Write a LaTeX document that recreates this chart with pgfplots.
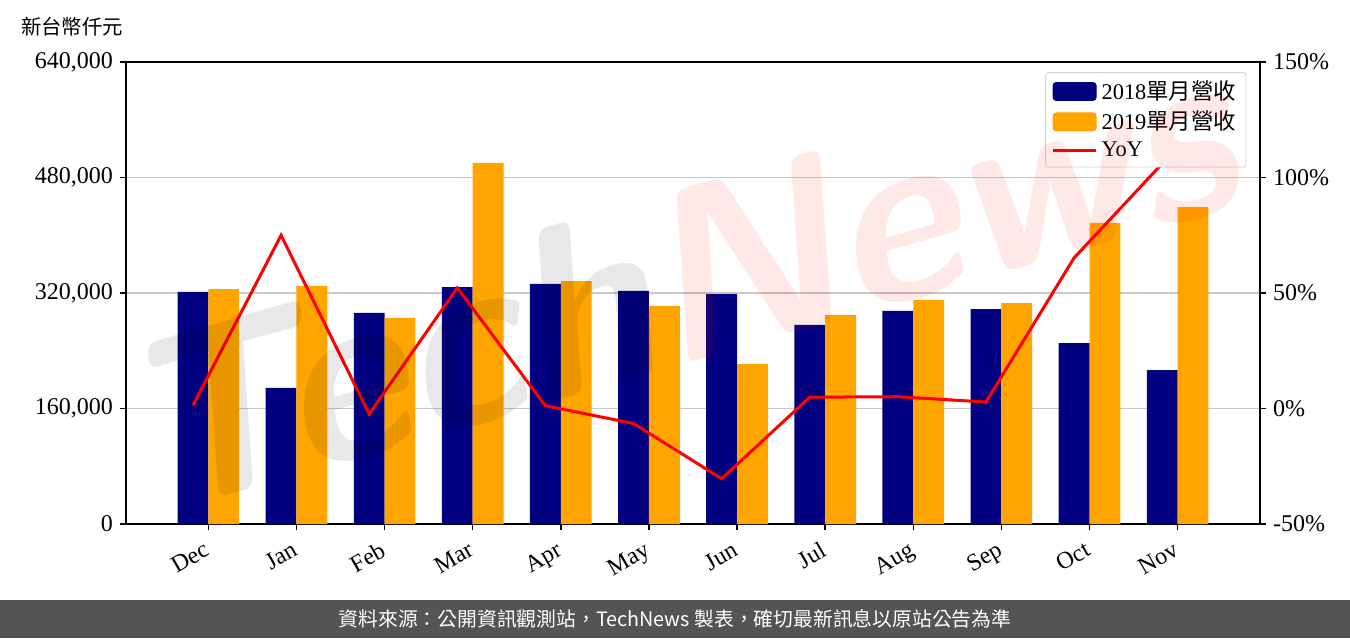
\documentclass[border=0pt]{standalone}
\usepackage{pgfplots}
\pgfplotsset{compat=1.18}
\usepackage{fontspec}
\setmainfont{Liberation Serif}
\newfontfamily\cjk{Noto Sans CJK TC}
\definecolor{navyc}{HTML}{000080}
\definecolor{orangec}{HTML}{FFA500}
\definecolor{footc}{HTML}{545454}
\definecolor{gridc}{HTML}{C8C8C8}
\pgfplotstableread{
x a
0 321400
1 188400
2 292300
3 328300
4 332500
5 322800
6 318600
7 275700
8 295100
9 297800
10 250700
11 213300
}\dataA
\pgfplotstableread{
x b
0.35 325500
1.35 329700
2.35 285400
3.35 500100
4.35 336600
5.35 302000
6.35 221600
7.35 289500
8.35 310300
9.35 306100
10.35 417000
11.35 439100
}\dataB
\pgfplotstableread{
x y
0 1.3
1 75.0
2 -2.4
3 52.2
4 1.2
5 -6.5
6 -30.4
7 4.9
8 5.1
9 2.8
10 65.2
11 106.0
}\dataC
\begin{document}
\begin{tikzpicture}
\path[use as bounding box] (0pt,0pt) rectangle (675pt,319pt);
\fill[footc] (0pt,0pt) rectangle (675pt,19pt);
\node[text=white,font=\cjk\fontsize{9.9}{11}\selectfont] at (337.5pt,9.7pt) {資料來源：公開資訊觀測站，TechNews 製表，確切最新訊息以原站公告為準};
\node[anchor=west,font=\cjk\fontsize{10.2}{12}\selectfont] at (7pt,305.5pt) {新台幣仟元};
\begin{axis}[
  at={(63pt,57pt)}, anchor=south west,
  scale only axis, width=567pt, height=231pt,
  xmin=-0.76, xmax=12.11,
  ymin=0, ymax=640000,
  ytick={0,160000,320000,480000,640000},
  scaled y ticks=false,
  yticklabel style={/pgf/number format/.cd, fixed, 1000 sep={,}},
  /pgf/number format/assume math mode=true,
  xtick={0.175,1.175,2.175,3.175,4.175,5.175,6.175,7.175,8.175,9.175,10.175,11.175},
  xticklabels={Dec,Jan,Feb,Mar,Apr,May,Jun,Jul,Aug,Sep,Oct,Nov},
  xticklabel style={rotate=30, anchor=north east, inner sep=1pt, yshift=-2pt, xshift=-4pt},
  tick label style={font=\fontsize{12}{14}\selectfont},
  ymajorgrids, grid style={gridc, line width=0.6pt},
  axis line style={line width=1pt},
  tick style={black, line width=0.7pt},
  tick align=outside, major tick length=3pt,
  xtick pos=bottom, ytick pos=left,
  axis y line*=left,
  axis x line*=bottom,
  clip=false,
]
\addplot[ybar, bar width=0.35, bar shift=0pt, fill=navyc, draw=none] table[x=x,y=a] {\dataA};
\addplot[ybar, bar width=0.35, bar shift=0pt, fill=orangec, draw=none] table[x=x,y=b] {\dataB};
\draw[line width=1pt] (rel axis cs:0,1) -- (rel axis cs:1,1);
\end{axis}
\begin{axis}[
  at={(63pt,57pt)}, anchor=south west,
  scale only axis, width=567pt, height=231pt,
  xmin=-0.76, xmax=12.11,
  ymin=-50, ymax=150,
  ytick={-50,0,50,100,150},
  yticklabel={\pgfmathprintnumber{\tick}\%},
  /pgf/number format/assume math mode=true,
  tick label style={font=\fontsize{12}{14}\selectfont},
  axis y line*=right,
  axis x line=none,
  axis line style={line width=1pt},
  tick style={black, line width=0.7pt},
  tick align=outside, major tick length=3pt,
  legend style={at={(0.988,0.978)}, anchor=north east, draw=black!18, rounded corners=1.5pt, font=\fontsize{11.2}{13}\selectfont, row sep=0.3pt, inner xsep=3pt, inner ysep=2pt},
  legend cell align=left,
  legend image code/.code={\draw[#1] (-6pt,0pt) -- (15.5pt,0pt);},
]
\addlegendimage{legend image code/.code={\fill[navyc] (-6pt,-4.5pt) rectangle (15.5pt,4.5pt);}}
\addlegendentry{2018{\cjk 單月營收}}
\addlegendimage{legend image code/.code={\fill[orangec] (-6pt,-4.5pt) rectangle (15.5pt,4.5pt);}}
\addlegendentry{2019{\cjk 單月營收}}
\addplot[red, line width=1.5pt, mark=none] table[x=x,y=y] {\dataC};
\addlegendentry{YoY}
\end{axis}
% watermark
\node[rotate=16,font=\sffamily\bfseries\itshape\fontsize{122}{122}\selectfont,inner sep=0pt,text opacity=0.09] at (338pt,179pt) {\textcolor{black}{Tech}\textcolor{red}{News}};
\end{tikzpicture}
\end{document}
